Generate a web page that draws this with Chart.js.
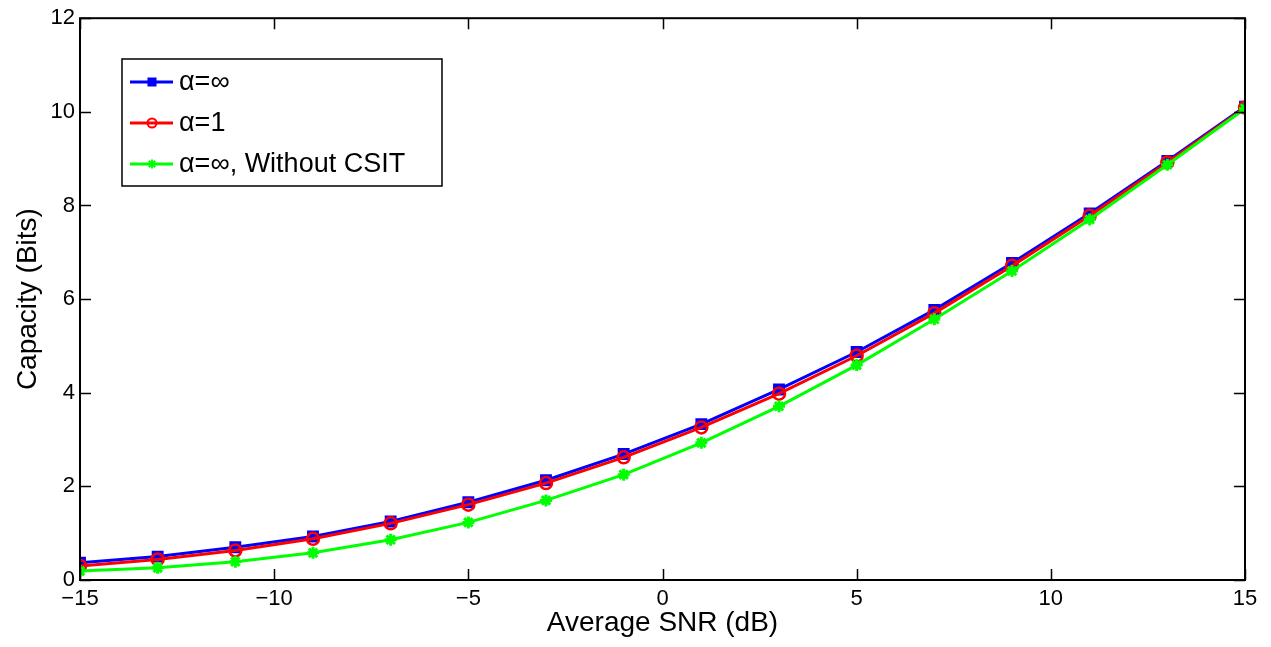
<!DOCTYPE html>
<html>
<head>
<meta charset="utf-8">
<script src="https://cdn.jsdelivr.net/npm/chart.js@4.4.1/dist/chart.umd.min.js"></script>
<style>
  html, body { margin: 0; padding: 0; background: #fff; }
  #wrap { width: 1271px; height: 647px; }
</style>
</head>
<body>
<div id="wrap"><canvas id="capChart"></canvas></div>
<script>
// average SNR (dB) sample points
const snr = [-15, -13, -11, -9, -7, -5, -3, -1, 1, 3, 5, 7, 9, 11, 13, 15];
// capacity (bits)
const capInf = [0.37, 0.50, 0.70, 0.93, 1.25, 1.66, 2.13, 2.69, 3.33, 4.07, 4.87, 5.77, 6.77, 7.83, 8.95, 10.11];
const capOne = [0.30, 0.44, 0.63, 0.88, 1.21, 1.61, 2.07, 2.62, 3.26, 3.98, 4.79, 5.70, 6.71, 7.78, 8.92, 10.09];
const capNoCsit = [0.19, 0.26, 0.39, 0.58, 0.86, 1.23, 1.70, 2.25, 2.93, 3.71, 4.59, 5.57, 6.60, 7.70, 8.87, 10.07];

const seriesLabels = ["α=∞", "α=1", "α=∞, Without CSIT"];
const xTicks = [-15, -10, -5, 0, 5, 10, 15];
const yTicks = [0, 2, 4, 6, 8, 10, 12];

const FONT = "'Liberation Sans', Arial, Helvetica, sans-serif";

function toPoints(ys) {
  return snr.map((x, i) => ({ x: x, y: ys[i] }));
}

// matlab style box + inward ticks on all four sides
const boxTicks = {
  id: "boxTicks",
  afterDraw(chart) {
    const ctx = chart.ctx;
    const a = chart.chartArea;
    const xs = chart.scales.x;
    const ys = chart.scales.y;
    const len = 11;
    ctx.save();
    ctx.strokeStyle = "#000";
    ctx.lineWidth = 1.5;
    ctx.beginPath();
    xTicks.forEach((v) => {
      const px = Math.round(xs.getPixelForValue(v)) + 0.5;
      ctx.moveTo(px, a.bottom);
      ctx.lineTo(px, a.bottom - len);
      ctx.moveTo(px, a.top);
      ctx.lineTo(px, a.top + len);
    });
    yTicks.forEach((v) => {
      const py = Math.round(ys.getPixelForValue(v)) + 0.5;
      ctx.moveTo(a.left, py);
      ctx.lineTo(a.left + len, py);
      ctx.moveTo(a.right, py);
      ctx.lineTo(a.right - len, py);
    });
    ctx.stroke();
    ctx.lineWidth = 2;
    ctx.strokeRect(a.left, a.top, a.right - a.left, a.bottom - a.top);
    ctx.restore();
  },
};

// legend box in the upper left of the plot
const boxLegend = {
  id: "boxLegend",
  afterDraw(chart) {
    const ctx = chart.ctx;
    const bx = 122, by = 59, bw = 320, bh = 127;
    ctx.save();
    ctx.fillStyle = "#fff";
    ctx.fillRect(bx, by, bw, bh);
    ctx.strokeStyle = "#000";
    ctx.lineWidth = 1.5;
    ctx.strokeRect(bx, by, bw, bh);
    ctx.font = "27px " + FONT;
    ctx.textBaseline = "middle";
    chart.data.datasets.forEach((ds, i) => {
      const cy = by + 23 + i * 41;
      ctx.strokeStyle = ds.borderColor;
      ctx.lineWidth = 3;
      ctx.beginPath();
      ctx.moveTo(bx + 8, cy);
      ctx.lineTo(bx + 51, cy);
      ctx.stroke();
      ctx.fillStyle = ds.backgroundColor;
      ctx.lineWidth = 2;
      Chart.helpers.drawPoint(ctx, {
        pointStyle: ds.pointStyle,
        radius: ds.pointStyle === "rect" ? 5 : 4.5,
        borderWidth: 2,
        rotation: 0,
      }, bx + 30, cy);
      ctx.fillStyle = "#000";
      ctx.fillText(ds.label, bx + 57, cy + 1);
    });
    ctx.restore();
  },
};

const ctx = document.getElementById("capChart").getContext("2d");
window.myChart = new Chart(ctx, {
  type: "line",
  data: {
    datasets: [
      {
        label: seriesLabels[0],
        data: toPoints(capInf),
        borderColor: "#0000ff",
        backgroundColor: "#0000ff",
        pointStyle: "rect",
        pointRadius: 7,
        pointBorderWidth: 2,
        borderWidth: 3,
        order: 3,
      },
      {
        label: seriesLabels[1],
        data: toPoints(capOne),
        borderColor: "#ff0000",
        backgroundColor: "rgba(0,0,0,0)",
        pointStyle: "circle",
        pointRadius: 6,
        pointBorderWidth: 2.5,
        borderWidth: 3,
        order: 2,
      },
      {
        label: seriesLabels[2],
        data: toPoints(capNoCsit),
        borderColor: "#00ff00",
        backgroundColor: "#00ff00",
        pointStyle: "star",
        pointRadius: 6,
        pointBorderWidth: 3,
        borderWidth: 3,
        order: 1,
      },
    ],
  },
  options: {
    responsive: true,
    maintainAspectRatio: false,
    animation: false,
    layout: { padding: { left: 0, top: 16, right: 26, bottom: 0 } },
    elements: { line: { tension: 0 } },
    plugins: {
      legend: { display: false },
      tooltip: { enabled: false },
    },
    scales: {
      x: {
        type: "linear",
        min: -15,
        max: 15,
        afterBuildTicks: (s) => { s.ticks = xTicks.map((v) => ({ value: v })); },
        afterFit: (s) => { s.height = 67; },
        grid: { display: false, drawTicks: false },
        border: { display: false },
        ticks: {
          padding: 6,
          color: "#000",
          font: { family: FONT, size: 22 },
          maxRotation: 0,
          callback: (v) => String(v).replace("-", "\u2212"),
        },
        title: {
          display: true,
          text: "Average SNR (dB)",
          color: "#000",
          font: { family: FONT, size: 28 },
          padding: { top: 0, bottom: 7 },
        },
      },
      y: {
        min: 0,
        max: 12,
        afterBuildTicks: (s) => { s.ticks = yTicks.map((v) => ({ value: v })); },
        afterFit: (s) => { s.width = 80; },
        grid: { display: false, drawTicks: false },
        border: { display: false },
        ticks: {
          padding: 5,
          color: "#000",
          font: { family: FONT, size: 22 },
        },
        title: {
          display: true,
          text: "Capacity (Bits)",
          color: "#000",
          font: { family: FONT, size: 28 },
          padding: { top: 11, bottom: 0 },
        },
      },
    },
  },
  plugins: [boxTicks, boxLegend],
});
</script>
</body>
</html>
